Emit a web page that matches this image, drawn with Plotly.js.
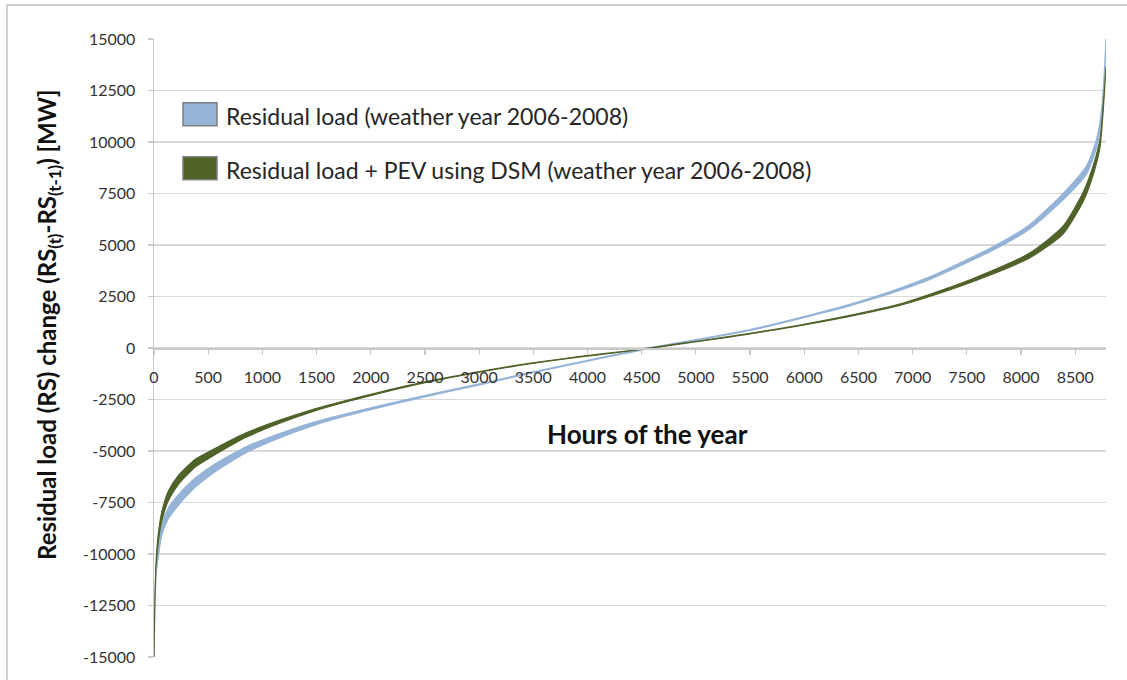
<!DOCTYPE html>
<html><head><meta charset="utf-8">
<script src="https://cdn.plot.ly/plotly-3.0.1.min.js"></script>
<style>html,body{margin:0;padding:0;background:#fff}#chart{width:1127px;height:680px}</style>
</head><body><div id="chart"></div>
<script>
// Residual load (weather year 2006-2008): sorted hourly change, band = spread across weather years
const blueHours = [0, 8, 20, 40, 71, 130, 224, 378, 532, 840, 1147, 1455, 1762, 2338, 3014, 3475, 3936, 4335, 4580, 5040, 5500, 5960, 6420, 6640, 6880, 7130, 7450, 7776, 8083, 8390, 8605, 8698, 8744, 8775, 8784];
const blueMid = [-15000, -12500, -10800, -9900, -8850, -8050, -7390, -6545, -5930, -4960, -4280, -3710, -3260, -2527, -1750, -1200, -690, -260, 0, 420, 870, 1450, 2080, 2430, 2850, 3330, 4090, 4924, 5895, 7354, 8650, 9950, 11400, 13835, 15000];
const blueHalf = [0, 30, 100, 180, 230, 250, 250, 220, 190, 140, 100, 75, 50, 35, 20, 15, 15, 15, 15, 15, 15, 20, 30, 35, 45, 55, 65, 80, 100, 150, 190, 190, 150, 80, 0];

// Residual load + PEV using DSM (weather year 2006-2008)
const greenHours = [0, 8, 20, 40, 71, 130, 224, 378, 532, 840, 1147, 1455, 1762, 2338, 3014, 3475, 3936, 4335, 4580, 5040, 5500, 5960, 6420, 6880, 7070, 7560, 8083, 8390, 8575, 8667, 8729, 8766, 8784];
const greenMid = [-15000, -12300, -10400, -9200, -8200, -7200, -6415, -5600, -5120, -4250, -3600, -3050, -2600, -1850, -1150, -750, -420, -170, 0, 340, 700, 1100, 1560, 2100, 2400, 3300, 4500, 5735, 7354, 8650, 9950, 12214, 13670];
const greenHalf = [0, 40, 130, 200, 230, 240, 220, 190, 160, 110, 75, 50, 35, 25, 18, 15, 15, 15, 15, 15, 15, 18, 25, 35, 50, 75, 120, 190, 230, 230, 200, 120, 0];

const seriesNames = ['Residual load (weather year 2006-2008)', 'Residual load + PEV using DSM (weather year 2006-2008)'];
const seriesColors = ['#95b3d7', '#4f6228'];

const xTickVals = [0, 500, 1000, 1500, 2000, 2500, 3000, 3500, 4000, 4500, 5000, 5500, 6000, 6500, 7000, 7500, 8000, 8500];
const xTickText = ['0', '500', '1000', '1500', '2000', '2500', '3000', '3500', '4000', '4500', '5000', '5500', '6000', '6500', '7000', '7500', '8000', '8500'];
const yTickVals = [-15000, -12500, -10000, -7500, -5000, -2500, 0, 2500, 5000, 7500, 10000, 12500, 15000];
const yTickText = ['-15000', '-12500', '-10000', '-7500', '-5000', '-2500', '0', '2500', '5000', '7500', '10000', '12500', '15000'];

function band(h, mid, half) {
  const up = mid.map((v, i) => v + half[i]);
  const lo = mid.map((v, i) => v - half[i]);
  return { x: h.concat(h.slice().reverse()), y: up.concat(lo.slice().reverse()) };
}
const bBand = band(blueHours, blueMid, blueHalf);
const gBand = band(greenHours, greenMid, greenHalf);

const traces = [
  { x: bBand.x, y: bBand.y, type: 'scatter', mode: 'lines', fill: 'toself', name: seriesNames[0],
    fillcolor: seriesColors[0], line: { color: seriesColors[0], width: 1.4, shape: 'spline', smoothing: 0.6 }, hoverinfo: 'skip' },
  { x: gBand.x, y: gBand.y, type: 'scatter', mode: 'lines', fill: 'toself', name: seriesNames[1],
    fillcolor: seriesColors[1], line: { color: seriesColors[1], width: 1.1, shape: 'spline', smoothing: 0.6 }, hoverinfo: 'skip' }
];

// plot area (px): left 154, right 1106, top 39.4, bottom 656.6
const PL = 154, PR = 1106, PT = 39.4, PB = 656.6;
const px = v => (v - PL) / (PR - PL);
const py = v => (PB - v) / (PB - PT);

const tickFont = { family: 'Lato, sans-serif', size: 16, color: '#333333' };

const layout = {
  width: 1127, height: 680,
  margin: { l: 154, r: 21, t: 39.4, b: 23.4, pad: 0 },
  paper_bgcolor: '#ffffff', plot_bgcolor: '#ffffff',
  showlegend: false,
  font: { family: 'Lato, sans-serif', color: '#333333', size: 16 },
  xaxis: {
    range: [0, 8784], anchor: 'free', position: 0.5,
    showgrid: false, zeroline: false, showline: true, linecolor: '#c8c8c8', linewidth: 1.5,
    ticks: 'outside', ticklen: 5, tickwidth: 1.2, tickcolor: '#c8c8c8',
    tickmode: 'array', tickvals: xTickVals, ticktext: xTickText,
    tickfont: tickFont, ticklabelstandoff: 9, fixedrange: true
  },
  yaxis: {
    range: [-15000, 15000],
    showgrid: true, gridcolor: '#d9d9d9', gridwidth: 1.5, zeroline: false,
    showline: true, linecolor: '#c8c8c8', linewidth: 1.5,
    ticks: 'outside', ticklen: 5, tickwidth: 1.2, tickcolor: '#c8c8c8',
    tickmode: 'array', tickvals: yTickVals, ticktext: yTickText,
    tickfont: tickFont, ticklabelstandoff: 9, fixedrange: true
  },
  shapes: [
    { type: 'rect', xref: 'paper', yref: 'paper', x0: px(7), x1: px(1140), y0: py(700), y1: py(5.5),
      line: { color: '#c4c4c4', width: 1.5 }, fillcolor: 'rgba(0,0,0,0)', layer: 'below' },
    { type: 'rect', xref: 'paper', yref: 'paper', x0: px(183), x1: px(217), y0: py(126), y1: py(103),
      line: { color: '#7f7f7f', width: 1.5 }, fillcolor: seriesColors[0] },
    { type: 'rect', xref: 'paper', yref: 'paper', x0: px(183), x1: px(217), y0: py(180), y1: py(157),
      line: { color: '#7f7f7f', width: 1.5 }, fillcolor: seriesColors[1] }
  ],
  annotations: [
    { xref: 'paper', yref: 'paper', x: px(224), y: py(116), xanchor: 'left', yanchor: 'middle', showarrow: false,
      text: seriesNames[0], font: { family: 'Lato, sans-serif', size: 23, color: '#262626' } },
    { xref: 'paper', yref: 'paper', x: px(224), y: py(170), xanchor: 'left', yanchor: 'middle', showarrow: false,
      text: seriesNames[1], font: { family: 'Lato, sans-serif', size: 23, color: '#262626' } },
    { xref: 'paper', yref: 'paper', x: px(647), y: py(434), xanchor: 'center', yanchor: 'middle', showarrow: false,
      text: 'Hours of the year', font: { family: 'Lato, sans-serif', size: 26, color: '#111111', weight: 700 } },
    { xref: 'paper', yref: 'paper', x: px(49), y: py(325), xanchor: 'center', yanchor: 'middle', showarrow: false, textangle: -90,
      text: 'Residual load (RS) change (RS<sub>(t)</sub>-RS<sub>(t-1)</sub>) [MW]',
      font: { family: 'Lato, sans-serif', size: 24, color: '#111111', weight: 700 } }
  ]
};

Plotly.newPlot('chart', traces, layout, { displayModeBar: false, staticPlot: true });
</script>
</body></html>
